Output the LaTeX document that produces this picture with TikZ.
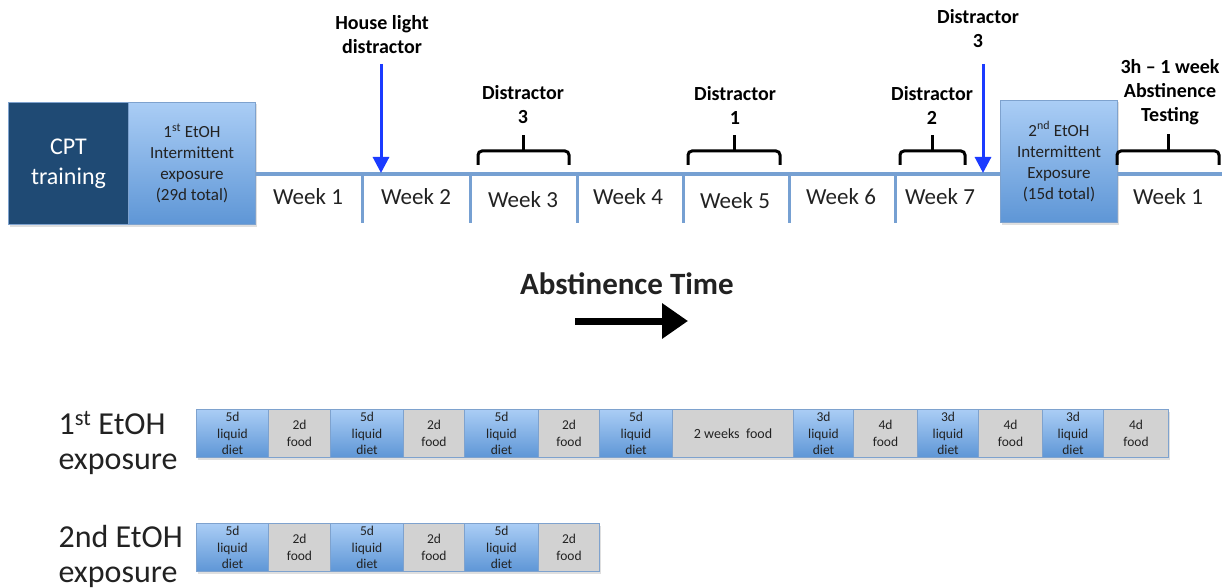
\documentclass[tikz,border=0pt]{standalone}
\usepackage{fontspec}
\setmainfont{Carlito}
\usetikzlibrary{arrows.meta, shadows}

\definecolor{cptnavy}{HTML}{1F4A74}
\definecolor{boxtop}{HTML}{AACDF5}
\definecolor{boxbot}{HTML}{5E96D6}
\definecolor{foodgray}{HTML}{D2D2D2}
\definecolor{edgeblue}{HTML}{7EA2CE}
\definecolor{lineblue}{HTML}{76A0D2}
\definecolor{markblue}{HTML}{1B3BFF}
\definecolor{txtgray}{HTML}{222222}

\tikzset{
  boxshadow/.style={drop shadow={opacity=0.25, shadow xshift=1pt, shadow yshift=-2pt}},
  phase/.style={draw=edgeblue, line width=1pt, top color=boxtop, bottom color=boxbot,
    align=center, inner sep=0pt, anchor=north west, boxshadow, text=txtgray,
    font=\fontsize{17}{21}\selectfont},
  liq/.style={phase, minimum height=48, font=\fontsize{13.5}{16.5}\selectfont},
  fd/.style={liq, fill=foodgray, top color=foodgray, bottom color=foodgray},
  wk/.style={text=txtgray, font=\fontsize{23}{27}\selectfont},
  lbl/.style={align=center, font=\bfseries\fontsize{20}{24}\selectfont},
  rowlbl/.style={anchor=west, align=left, text=txtgray, font=\fontsize{32}{35}\selectfont},
  tline/.style={lineblue, line width=4pt},
  tick/.style={lineblue, line width=3pt},
  brc/.style={line width=3pt, rounded corners=4pt},
  cue/.style={-{Triangle[width=16pt, length=16pt]}, markblue, line width=3pt},
}

\begin{document}
\begin{tikzpicture}[x=1pt, y=-1pt]
        \useasboundingbox (0,0) rectangle (1228,588);

        % timeline boxes
        \node[phase, fill=cptnavy, top color=cptnavy, bottom color=cptnavy, text=white,
          minimum width=120, minimum height=122, font=\fontsize{24}{30}\selectfont]
          (cpt) at (8,102) {CPT\\training};
        \node[phase, minimum width=127, minimum height=122] (ex1) at (128,102)
          {1\textsuperscript{st} EtOH\\Intermittent\\exposure\\(29d total)};
        \node[phase, minimum width=117, minimum height=122] (ex2) at (1000,100)
          {2\textsuperscript{nd} EtOH\\Intermittent\\Exposure\\(15d total)};

        \coordinate (tl) at (0,174);
        \draw[tline] (ex1.east |- tl) -- (ex2.west |- tl);
        \draw[tline] (ex2.east |- tl) -- (1222,174);
        \foreach \x in {362,470,577,683,789,895}
          \draw[tick] (\x,174) -- (\x,223);

        \node[wk] (w1) at (308,197) {Week 1};
        \node[wk] (w2) at (416,197) {Week 2};
        \node[wk] (w3) at (523,200) {Week 3};
        \node[wk] (w4) at (628,197) {Week 4};
        \node[wk] (w5) at (735,201) {Week 5};
        \node[wk] (w6) at (841,197) {Week 6};
        \node[wk] (w7) at (940,197) {Week 7};
        \node[wk] (w8) at (1168,197) {Week 1};

        % distractors
        \node[lbl] (hl) at (382,35) {House light\\distractor};
        \node[lbl] (d3a) at (523,105) {Distractor\\3};
        \node[lbl] (d1) at (735,105) {Distractor\\1};
        \node[lbl] (d2) at (932,105) {Distractor\\2};
        \node[lbl] (d3b) at (978,29) {Distractor\\3};
        \node[lbl] (abst) at (1170,92) {3h -- 1 week\\Abstinence\\Testing};

        \draw[brc] (478,165) |- (569,151) -- (569,165);
        \draw[brc] (523,152) -- (523,135);
        \draw[brc] (688,165) |- (780,151) -- (780,165);
        \draw[brc] (734,152) -- (734,135);
        \draw[brc] (900,165) |- (965,151) -- (965,165);
        \draw[brc] (932,152) -- (932,135);
        \draw[brc] (1117,165) |- (1219,151) -- (1219,165);
        \draw[brc] (1168,152) -- (1168,134);

        \coordinate (hltop) at (381,64);
        \coordinate (hlend) at (381,173);
        \coordinate (d3top) at (983,64);
        \coordinate (d3end) at (983,173);
        \draw[cue] (hltop) -- (hlend);
        \draw[cue] (d3top) -- (d3end);

        % abstinence time
        \node[font=\bfseries\fontsize{31}{36}\selectfont, text=txtgray] (time) at (627,284) {Abstinence Time};
        \coordinate (ta) at (575,321);
        \coordinate (tb) at (688,321);
        \draw[-{Triangle[width=34pt, length=26pt]}, line width=7pt] (ta) -- (tb);

        % diet schedule
        \node[rowlbl] (row1) at (55,443) {1\textsuperscript{st} EtOH\\exposure};
        \node[liq, minimum width=72] (a1) at (196,409) {5d\\liquid\\diet};
        \node[fd, minimum width=62] (a2) at (268,409) {2d\\food};
        \node[liq, minimum width=73] (a3) at (330,409) {5d\\liquid\\diet};
        \node[fd, minimum width=61] (a4) at (403,409) {2d\\food};
        \node[liq, minimum width=74] (a5) at (464,409) {5d\\liquid\\diet};
        \node[fd, minimum width=61] (a6) at (538,409) {2d\\food};
        \node[liq, minimum width=73] (a7) at (599,409) {5d\\liquid\\diet};
        \node[fd, minimum width=121, font=\fontsize{14}{16.5}\selectfont] (a8) at (672,409) {2 weeks\ \ food};
        \node[liq, minimum width=60] (a9) at (793,409) {3d\\liquid\\diet};
        \node[fd, minimum width=64] (a10) at (853,409) {4d\\food};
        \node[liq, minimum width=61] (a11) at (917,409) {3d\\liquid\\diet};
        \node[fd, minimum width=64] (a12) at (978,409) {4d\\food};
        \node[liq, minimum width=61] (a13) at (1042,409) {3d\\liquid\\diet};
        \node[fd, minimum width=65] (a14) at (1103,409) {4d\\food};

        \node[rowlbl] (row2) at (55,556) {2nd EtOH\\exposure};
        \node[liq, minimum width=72] (b1) at (196,523) {5d\\liquid\\diet};
        \node[fd, minimum width=62] (b2) at (268,523) {2d\\food};
        \node[liq, minimum width=73] (b3) at (330,523) {5d\\liquid\\diet};
        \node[fd, minimum width=61] (b4) at (403,523) {2d\\food};
        \node[liq, minimum width=74] (b5) at (464,523) {5d\\liquid\\diet};
        \node[fd, minimum width=61] (b6) at (538,523) {2d\\food};
    \end{tikzpicture}
\end{document}
